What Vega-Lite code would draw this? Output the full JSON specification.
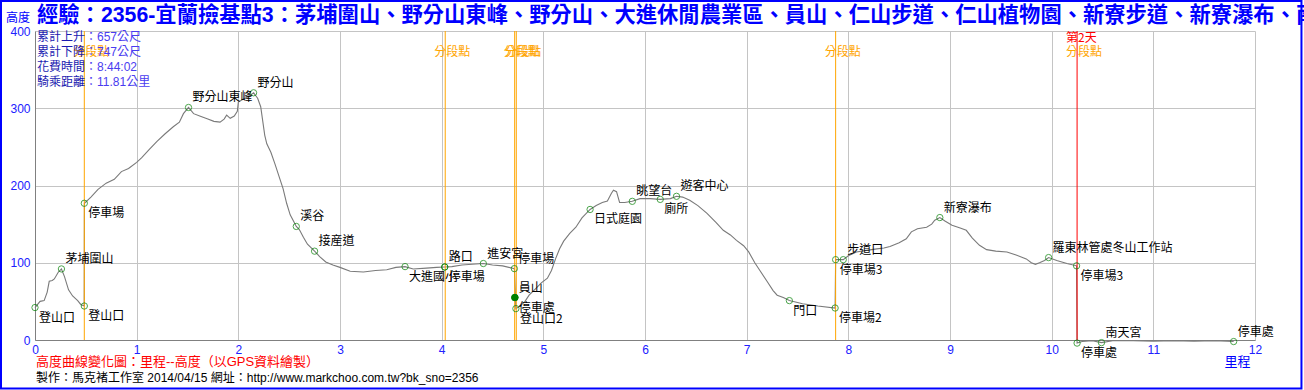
{
  "$schema": "https://vega.github.io/schema/vega-lite/v6.json",
  "width": 1220,
  "height": 309,
  "autosize": "none",
  "padding": {"left": 35, "top": 31, "right": 49, "bottom": 50},
  "background": "white",
  "title": {
    "text": "經驗：2356-宜蘭撿基點3：茅埔圍山、野分山東峰、野分山、大進休閒農業區、員山、仁山步道、仁山植物園、新寮步道、新寮瀑布、南天宮",
    "anchor": "start",
    "frame": "group",
    "font": "Liberation Sans, Noto Sans CJK TC",
    "fontSize": 21.3,
    "fontWeight": "bold",
    "color": "#0000ff",
    "offset": 0,
    "dx": 2,
    "dy": 37.5,
    "baseline": "middle"
  },
  "config": {
    "view": {"stroke": null},
    "axis": {
      "ticks": false,
      "domainColor": "#808080",
      "gridColor": "#c4c4c4",
      "gridWidth": 1,
      "labelColor": "#2020ff",
      "labelFont": "Liberation Sans",
      "labelFontSize": 12,
      "titleColor": "#0000ff",
      "titleFont": "Noto Sans CJK TC",
      "titleFontWeight": "normal"
    }
  },
  "datasets": {
    "profile": [
      {"km": 0, "elev": 42}, {"km": 0.05, "elev": 50}, {"km": 0.09, "elev": 51}, {"km": 0.12, "elev": 62},
      {"km": 0.14, "elev": 76}, {"km": 0.17, "elev": 77}, {"km": 0.19, "elev": 79}, {"km": 0.23, "elev": 88},
      {"km": 0.26, "elev": 92}, {"km": 0.29, "elev": 82}, {"km": 0.33, "elev": 65}, {"km": 0.37, "elev": 57},
      {"km": 0.42, "elev": 51}, {"km": 0.45, "elev": 46}, {"km": 0.484, "elev": 44}, {"km": 0.486, "elev": 177},
      {"km": 0.55, "elev": 185}, {"km": 0.62, "elev": 195}, {"km": 0.7, "elev": 203}, {"km": 0.78, "elev": 208},
      {"km": 0.85, "elev": 218}, {"km": 0.92, "elev": 222}, {"km": 1.0, "elev": 230}, {"km": 1.05, "elev": 236},
      {"km": 1.12, "elev": 246}, {"km": 1.2, "elev": 257}, {"km": 1.28, "elev": 267}, {"km": 1.36, "elev": 276},
      {"km": 1.42, "elev": 282}, {"km": 1.46, "elev": 293}, {"km": 1.51, "elev": 301}, {"km": 1.56, "elev": 293},
      {"km": 1.62, "elev": 290}, {"km": 1.7, "elev": 286}, {"km": 1.76, "elev": 283}, {"km": 1.82, "elev": 282},
      {"km": 1.86, "elev": 286}, {"km": 1.885, "elev": 291}, {"km": 1.92, "elev": 287}, {"km": 1.96, "elev": 290},
      {"km": 1.99, "elev": 296}, {"km": 2.0, "elev": 308}, {"km": 2.05, "elev": 312}, {"km": 2.1, "elev": 315},
      {"km": 2.15, "elev": 320}, {"km": 2.19, "elev": 313}, {"km": 2.22, "elev": 302}, {"km": 2.26, "elev": 265},
      {"km": 2.28, "elev": 254}, {"km": 2.32, "elev": 243}, {"km": 2.36, "elev": 228}, {"km": 2.41, "elev": 208},
      {"km": 2.44, "elev": 196}, {"km": 2.475, "elev": 177}, {"km": 2.51, "elev": 162}, {"km": 2.55, "elev": 152},
      {"km": 2.57, "elev": 147}, {"km": 2.6, "elev": 143}, {"km": 2.64, "elev": 133}, {"km": 2.68, "elev": 124},
      {"km": 2.75, "elev": 115}, {"km": 2.8, "elev": 108}, {"km": 2.86, "elev": 101}, {"km": 2.93, "elev": 97},
      {"km": 3.0, "elev": 94}, {"km": 3.1, "elev": 89}, {"km": 3.23, "elev": 88}, {"km": 3.35, "elev": 90},
      {"km": 3.46, "elev": 91}, {"km": 3.55, "elev": 94}, {"km": 3.64, "elev": 95}, {"km": 3.72, "elev": 92},
      {"km": 3.85, "elev": 93}, {"km": 3.95, "elev": 94}, {"km": 4.03, "elev": 94.5}, {"km": 4.1, "elev": 95},
      {"km": 4.2, "elev": 97}, {"km": 4.3, "elev": 98}, {"km": 4.41, "elev": 99}, {"km": 4.5, "elev": 97},
      {"km": 4.6, "elev": 96}, {"km": 4.715, "elev": 92.4}, {"km": 4.73, "elev": 40.6}, {"km": 4.78, "elev": 45},
      {"km": 4.82, "elev": 50}, {"km": 4.86, "elev": 58}, {"km": 4.92, "elev": 66}, {"km": 4.98, "elev": 74},
      {"km": 5.04, "elev": 80}, {"km": 5.08, "elev": 90}, {"km": 5.12, "elev": 105}, {"km": 5.16, "elev": 118},
      {"km": 5.2, "elev": 128}, {"km": 5.26, "elev": 138}, {"km": 5.32, "elev": 146}, {"km": 5.38, "elev": 158},
      {"km": 5.46, "elev": 169}, {"km": 5.52, "elev": 174}, {"km": 5.58, "elev": 178}, {"km": 5.63, "elev": 180},
      {"km": 5.67, "elev": 190}, {"km": 5.69, "elev": 194}, {"km": 5.72, "elev": 192}, {"km": 5.75, "elev": 178},
      {"km": 5.8, "elev": 178}, {"km": 5.875, "elev": 179.5}, {"km": 5.95, "elev": 183}, {"km": 6.05, "elev": 183},
      {"km": 6.15, "elev": 182}, {"km": 6.25, "elev": 183}, {"km": 6.31, "elev": 186}, {"km": 6.37, "elev": 185},
      {"km": 6.44, "elev": 181}, {"km": 6.52, "elev": 174}, {"km": 6.61, "elev": 164}, {"km": 6.7, "elev": 152},
      {"km": 6.77, "elev": 142}, {"km": 6.84, "elev": 136}, {"km": 6.9, "elev": 129}, {"km": 6.97, "elev": 122},
      {"km": 7.02, "elev": 114}, {"km": 7.08, "elev": 100}, {"km": 7.13, "elev": 90}, {"km": 7.2, "elev": 76},
      {"km": 7.26, "elev": 64}, {"km": 7.3, "elev": 58}, {"km": 7.36, "elev": 55}, {"km": 7.42, "elev": 51},
      {"km": 7.55, "elev": 47}, {"km": 7.7, "elev": 44}, {"km": 7.87, "elev": 41.4}, {"km": 7.875, "elev": 104},
      {"km": 7.95, "elev": 104}, {"km": 8.0, "elev": 109}, {"km": 8.08, "elev": 114}, {"km": 8.18, "elev": 116},
      {"km": 8.28, "elev": 118}, {"km": 8.35, "elev": 119}, {"km": 8.41, "elev": 121}, {"km": 8.5, "elev": 126},
      {"km": 8.57, "elev": 131}, {"km": 8.62, "elev": 140}, {"km": 8.68, "elev": 144}, {"km": 8.77, "elev": 146},
      {"km": 8.82, "elev": 150}, {"km": 8.85, "elev": 155}, {"km": 8.9, "elev": 158.5}, {"km": 8.95, "elev": 154},
      {"km": 9.02, "elev": 148.5}, {"km": 9.1, "elev": 145}, {"km": 9.16, "elev": 142}, {"km": 9.22, "elev": 132},
      {"km": 9.29, "elev": 122.6}, {"km": 9.36, "elev": 117}, {"km": 9.45, "elev": 115}, {"km": 9.56, "elev": 114},
      {"km": 9.65, "elev": 110}, {"km": 9.75, "elev": 105}, {"km": 9.8, "elev": 100}, {"km": 9.84, "elev": 98},
      {"km": 9.88, "elev": 100}, {"km": 9.93, "elev": 103}, {"km": 9.97, "elev": 106.7}, {"km": 10.05, "elev": 103},
      {"km": 10.15, "elev": 99}, {"km": 10.245, "elev": 96}, {"km": 10.25, "elev": -4}, {"km": 10.3, "elev": -2},
      {"km": 10.4, "elev": -1}, {"km": 10.49, "elev": -3.4}, {"km": 10.6, "elev": -1}, {"km": 10.8, "elev": -1},
      {"km": 11.0, "elev": -1.5}, {"km": 11.2, "elev": -1}, {"km": 11.4, "elev": -1.5}, {"km": 11.6, "elev": -1},
      {"km": 11.79, "elev": -2}
    ],
    "waypoints": [
      {"km": 0, "elev": 42, "name": "登山口", "pos": "below"},
      {"km": 0.26, "elev": 92, "name": "茅埔圍山", "pos": "above"},
      {"km": 0.485, "elev": 44, "name": "登山口", "pos": "below"},
      {"km": 0.485, "elev": 177, "name": "停車場", "pos": "below"},
      {"km": 1.51, "elev": 301, "name": "野分山東峰", "pos": "above"},
      {"km": 2.15, "elev": 320, "name": "野分山", "pos": "above"},
      {"km": 2.57, "elev": 147, "name": "溪谷", "pos": "above"},
      {"km": 2.75, "elev": 115, "name": "接産道", "pos": "above"},
      {"km": 3.64, "elev": 95, "name": "大進國小", "pos": "below"},
      {"km": 4.03, "elev": 94.5, "name": "路口", "pos": "above"},
      {"km": 4.03, "elev": 94.5, "name": "停車場", "pos": "below"},
      {"km": 4.41, "elev": 99, "name": "進安宮", "pos": "above"},
      {"km": 4.715, "elev": 92.4, "name": "停車場", "pos": "above"},
      {"km": 4.72, "elev": 55, "name": "員山", "pos": "above", "peak": true},
      {"km": 4.72, "elev": 55, "name": "停車處", "pos": "below"},
      {"km": 4.73, "elev": 40.6, "name": "登山口2", "pos": "below"},
      {"km": 5.46, "elev": 169, "name": "日式庭園", "pos": "below"},
      {"km": 5.875, "elev": 179.5, "name": "眺望台", "pos": "above"},
      {"km": 6.15, "elev": 182, "name": "廁所", "pos": "below"},
      {"km": 6.31, "elev": 186, "name": "遊客中心", "pos": "above"},
      {"km": 7.42, "elev": 51, "name": "門口", "pos": "below"},
      {"km": 7.87, "elev": 41.4, "name": "停車場2", "pos": "below"},
      {"km": 7.875, "elev": 104, "name": "停車場3", "pos": "below"},
      {"km": 7.95, "elev": 104, "name": "步道口", "pos": "above"},
      {"km": 8.9, "elev": 158.5, "name": "新寮瀑布", "pos": "above"},
      {"km": 9.97, "elev": 106.7, "name": "羅東林管處冬山工作站", "pos": "above"},
      {"km": 10.245, "elev": 96, "name": "停車場3", "pos": "below"},
      {"km": 10.25, "elev": -4, "name": "停車處", "pos": "below"},
      {"km": 10.49, "elev": -3.4, "name": "南天宮", "pos": "above"},
      {"km": 11.79, "elev": -2, "name": "停車處", "pos": "above"}
    ],
    "splits": [
      {"km": 0.485, "kind": "分段點"},
      {"km": 4.035, "kind": "分段點"},
      {"km": 4.718, "kind": "分段點"},
      {"km": 4.734, "kind": "分段點"},
      {"km": 7.875, "kind": "分段點"},
      {"km": 10.25, "kind": "換日", "day": "第2天"}
    ]
  },
  "layer": [
    {
      "data": {"name": "profile"},
      "mark": {"type": "line", "color": "#7a7a7a", "strokeWidth": 1.1},
      "encoding": {
        "x": {
          "field": "km", "type": "quantitative",
          "scale": {"domain": [0, 12], "nice": false},
          "axis": {
            "values": [0, 1, 2, 3, 4, 5, 6, 7, 8, 9, 10, 11, 12],
            "format": "d",
            "labelFlush": false,
            "labelPadding": 4,
            "title": "里程",
            "titleX": 1202, "titleY": 21,
            "titleAlign": "center", "titleBaseline": "middle",
            "titleFontSize": 13
          }
        },
        "y": {
          "field": "elev", "type": "quantitative",
          "scale": {"domain": [0, 400], "nice": false},
          "axis": {
            "values": [0, 100, 200, 300, 400],
            "format": "d",
            "labelPadding": 5,
            "title": "高度",
            "titleAngle": 0,
            "titleX": -17.5, "titleY": -14,
            "titleAlign": "center", "titleBaseline": "middle",
            "titleFontSize": 12
          }
        }
      }
    },
    {
      "data": {"name": "splits"},
      "mark": {"type": "rule", "strokeWidth": 1},
      "encoding": {
        "x": {"field": "km", "type": "quantitative"},
        "color": {
          "field": "kind", "type": "nominal",
          "scale": {"domain": ["分段點", "換日"], "range": ["#ffa500", "#ff0000"]},
          "legend": null
        }
      }
    },
    {
      "data": {"name": "waypoints"},
      "mark": {"type": "point", "shape": "circle", "filled": false, "color": "#008000", "strokeWidth": 1, "size": 40},
      "encoding": {
        "x": {"field": "km", "type": "quantitative"},
        "y": {"field": "elev", "type": "quantitative"}
      }
    },
    {
      "data": {"name": "waypoints"},
      "transform": [{"filter": "datum.peak === true"}],
      "mark": {"type": "point", "shape": "circle", "filled": true, "color": "#008000", "opacity": 1, "size": 50},
      "encoding": {
        "x": {"field": "km", "type": "quantitative"},
        "y": {"field": "elev", "type": "quantitative"}
      }
    },
    {
      "data": {"name": "waypoints"},
      "transform": [{"filter": "datum.pos === 'above'"}],
      "mark": {"type": "text", "align": "left", "baseline": "middle", "dx": 4, "dy": -10, "font": "Noto Sans CJK TC", "fontSize": 12, "color": "#000000"},
      "encoding": {
        "x": {"field": "km", "type": "quantitative"},
        "y": {"field": "elev", "type": "quantitative"},
        "text": {"field": "name"}
      }
    },
    {
      "data": {"name": "waypoints"},
      "transform": [{"filter": "datum.pos === 'below'"}],
      "mark": {"type": "text", "align": "left", "baseline": "middle", "dx": 4, "dy": 10, "font": "Noto Sans CJK TC", "fontSize": 12, "color": "#000000"},
      "encoding": {
        "x": {"field": "km", "type": "quantitative"},
        "y": {"field": "elev", "type": "quantitative"},
        "text": {"field": "name"}
      }
    },
    {
      "data": {"name": "splits"},
      "mark": {"type": "text", "align": "left", "baseline": "middle", "dx": -11, "dy": 21, "font": "Noto Sans CJK TC", "fontSize": 12, "color": "#ffa500", "text": "分段點"},
      "encoding": {
        "x": {"field": "km", "type": "quantitative"},
        "y": {"datum": 400, "type": "quantitative"}
      }
    },
    {
      "data": {"name": "splits"},
      "transform": [{"filter": "datum.day != null"}],
      "mark": {"type": "text", "align": "left", "baseline": "middle", "dx": -11, "dy": 6.5, "font": "Noto Sans CJK TC", "fontSize": 12, "color": "#ff0000"},
      "encoding": {
        "x": {"field": "km", "type": "quantitative"},
        "y": {"datum": 400, "type": "quantitative"},
        "text": {"field": "day"}
      }
    },
    {
      "data": {"values": [{}]},
      "mark": {"type": "text", "align": "left", "baseline": "top", "dx": 2, "dy": 0.5, "lineHeight": 15.3, "font": "Noto Sans CJK TC", "fontSize": 12, "color": "#1a1ab0",
        "text": ["累計上升", "累計下降", "花費時間", "騎乘距離"]},
      "encoding": {
        "x": {"datum": 0, "type": "quantitative"},
        "y": {"datum": 400, "type": "quantitative"}
      }
    },
    {
      "data": {"values": [{}]},
      "mark": {"type": "text", "align": "left", "baseline": "top", "dx": 50, "dy": 0.5, "lineHeight": 15.3, "font": "Liberation Sans, Noto Sans CJK TC", "fontSize": 12, "color": "#4a3cf0",
        "text": ["：657公尺", "：747公尺", "：8:44:02", "：11.81公里"]},
      "encoding": {
        "x": {"datum": 0, "type": "quantitative"},
        "y": {"datum": 400, "type": "quantitative"}
      }
    },
    {
      "data": {"values": [{}]},
      "mark": {"type": "text", "align": "left", "baseline": "middle", "dx": 1, "dy": 22, "font": "Liberation Sans, Noto Sans CJK TC", "fontSize": 13, "color": "#ff0000",
        "text": "高度曲線變化圖：里程--高度（以GPS資料繪製）"},
      "encoding": {
        "x": {"datum": 0, "type": "quantitative"},
        "y": {"datum": 0, "type": "quantitative"}
      }
    },
    {
      "data": {"values": [{}]},
      "mark": {"type": "text", "align": "left", "baseline": "middle", "dx": 1, "dy": 38, "font": "Liberation Sans, Noto Sans CJK TC", "fontSize": 12, "color": "#000000",
        "text": "製作：馬克褚工作室 2014/04/15 網址：http://www.markchoo.com.tw?bk_sno=2356"},
      "encoding": {
        "x": {"datum": 0, "type": "quantitative"},
        "y": {"datum": 0, "type": "quantitative"}
      }
    },
    {
      "data": {"values": [{}]},
      "mark": {"type": "rect", "filled": false, "fill": null, "stroke": "#0000ff", "strokeWidth": 2},
      "encoding": {
        "x": {"datum": -0.3344, "type": "quantitative"},
        "x2": {"datum": 12.457},
        "y": {"datum": 438.8, "type": "quantitative"},
        "y2": {"datum": -62.8}
      }
    }
  ]
}
